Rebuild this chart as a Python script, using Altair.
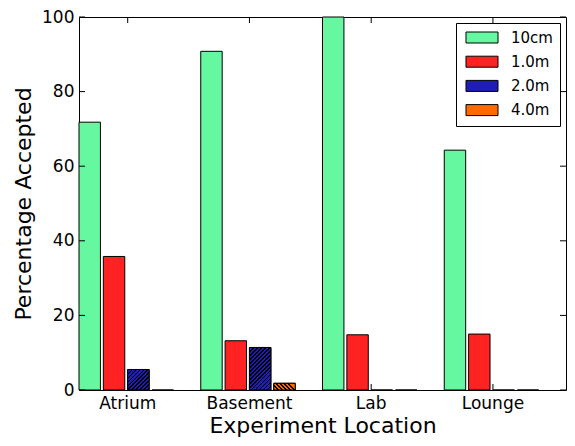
import math
import altair as alt
import pandas as pd

# ---- data ----
locations = ["Atrium", "Basement", "Lab", "Lounge"]
distances = ["10cm", "1.0m", "2.0m", "4.0m"]
v_10cm = [71.8, 90.8, 100.0, 64.3]
v_1m = [35.8, 13.2, 14.8, 15.0]
v_2m = [5.5, 11.4, 0.0, 0.0]
v_4m = [0.0, 1.8, 0.0, 0.0]
colors = ["#66f8a0", "#ff2222", "#1e1eb0", "#ff6a00"]
hatch_dirs = {"2.0m": "/", "4.0m": "\\"}
y_ticks = [0, 20, 40, 60, 80, 100]

W, H = 487, 373
FONT = "DejaVu Sans"

series = {"10cm": v_10cm, "1.0m": v_1m, "2.0m": v_2m, "4.0m": v_4m}
rows = []
for d in distances:
    for loc, v in zip(locations, series[d]):
        rows.append({"loc": loc, "dist": d, "value": v})
df = pd.DataFrame(rows)

# geometry of bars (used only for hatch stripe spacing)
group_step = W / 4.0
band = group_step * 0.8
PAD_OFF = 0.12
bar_w = band / 4.0 * (1 - PAD_OFF)


def hatch_gradient(base, w, h, direction, period=2.8, frac=0.38):
    r = h / w
    L = w * (1 + r * r) / math.sqrt(2)
    dt = period / L
    stops = []
    k = 0
    while k * dt < 1:
        a = k * dt
        b = min(a + frac * dt, 1.0)
        c = min((k + 1) * dt, 1.0)
        stops += [
            alt.GradientStop(offset=a, color="black"),
            alt.GradientStop(offset=b, color="black"),
            alt.GradientStop(offset=b, color=base),
            alt.GradientStop(offset=c, color=base),
        ]
        k += 1
    if direction == "/":
        return alt.LinearGradient(gradient="linear", stops=stops, x1=0, y1=0, x2=1, y2=r)
    return alt.LinearGradient(gradient="linear", stops=stops, x1=0, y1=1, x2=1, y2=1 - r)


x_enc = alt.X(
    "loc:N",
    sort=locations,
    scale=alt.Scale(domain=locations, paddingInner=0.2, paddingOuter=0.1, align=0),
    axis=alt.Axis(
        title="Experiment Location",
        labelAngle=0,
        labelPadding=5,
        titlePadding=4,
    ),
)
xoff_enc = alt.XOffset(
    "dist:N",
    scale=alt.Scale(domain=distances, paddingInner=PAD_OFF, paddingOuter=PAD_OFF / 2, align=0),
)
y_enc = alt.Y(
    "value:Q",
    scale=alt.Scale(domain=[0, 100], nice=False),
    axis=alt.Axis(values=y_ticks, title="Percentage Accepted", labelPadding=5, titlePadding=6),
)

bars = (
    alt.Chart(df)
    .mark_bar(stroke="black", strokeWidth=1, opacity=1)
    .encode(
        x=x_enc,
        xOffset=xoff_enc,
        y=y_enc,
        color=alt.Color(
            "dist:N",
            scale=alt.Scale(domain=distances, range=colors),
            legend=alt.Legend(
                title=None,
                orient="top-right",
                offset=6,
                symbolType="M-2.91,-1H2.91V1H-2.91Z",
                symbolSize=121,
                symbolOffset=11.5,
                symbolStrokeColor="black",
                symbolStrokeWidth=1,
                symbolOpacity=1,
                labelFontSize=15,
                labelFont=FONT,
                labelColor="black",
                labelOffset=21.5,
                strokeColor="black",
                fillColor="white",
                padding=7,
                rowPadding=8.2,
                cornerRadius=0,
            ),
        ),
    )
)

hatch_layers = []
for d, direction in hatch_dirs.items():
    base = colors[distances.index(d)]
    for loc, v in zip(locations, series[d]):
        if v <= 0:
            continue
        h = v / 100.0 * H
        grad = hatch_gradient(base, bar_w, h, direction)
        layer = (
            alt.Chart(df)
            .transform_filter(f"datum.loc == '{loc}' && datum.dist == '{d}'")
            .mark_bar(fill=grad, stroke="black", strokeWidth=1)
            .encode(x=x_enc, xOffset=xoff_enc, y=y_enc)
        )
        hatch_layers.append(layer)

# inward ticks on all four sides (matplotlib classic style)
ytick_df = pd.DataFrame({"value": y_ticks})
xtick_df = pd.DataFrame({"loc": locations})
TL = 6
left_ticks = alt.Chart(ytick_df).mark_rule(color="black", strokeWidth=1).encode(
    y=y_enc, x=alt.value(0), x2=alt.value(TL)
)
right_ticks = alt.Chart(ytick_df).mark_rule(color="black", strokeWidth=1).encode(
    y=y_enc, x=alt.value(W - TL), x2=alt.value(W)
)
bottom_ticks = alt.Chart(xtick_df).mark_rule(color="black", strokeWidth=1).encode(
    x=x_enc, y=alt.value(H - TL), y2=alt.value(H)
)
top_ticks = alt.Chart(xtick_df).mark_rule(color="black", strokeWidth=1).encode(
    x=x_enc, y=alt.value(0), y2=alt.value(TL)
)

chart = (
    alt.layer(bars, *hatch_layers, left_ticks, right_ticks, bottom_ticks, top_ticks)
    .properties(
        width=W,
        height=H,
        autosize=alt.AutoSizeParams(type="none"),
        padding={"left": 71, "top": 9, "right": 1, "bottom": 48},
        background="white",
    )
    .configure_view(stroke="black", strokeWidth=1)
    .configure_axis(
        domain=False,
        ticks=False,
        grid=False,
        labelFont=FONT,
        labelFontSize=17,
        labelColor="black",
        titleFont=FONT,
        titleFontSize=22,
        titleFontWeight="normal",
        titleColor="black",
    )
)

chart.save("out.html", embed_options={"renderer": "svg", "actions": False})
